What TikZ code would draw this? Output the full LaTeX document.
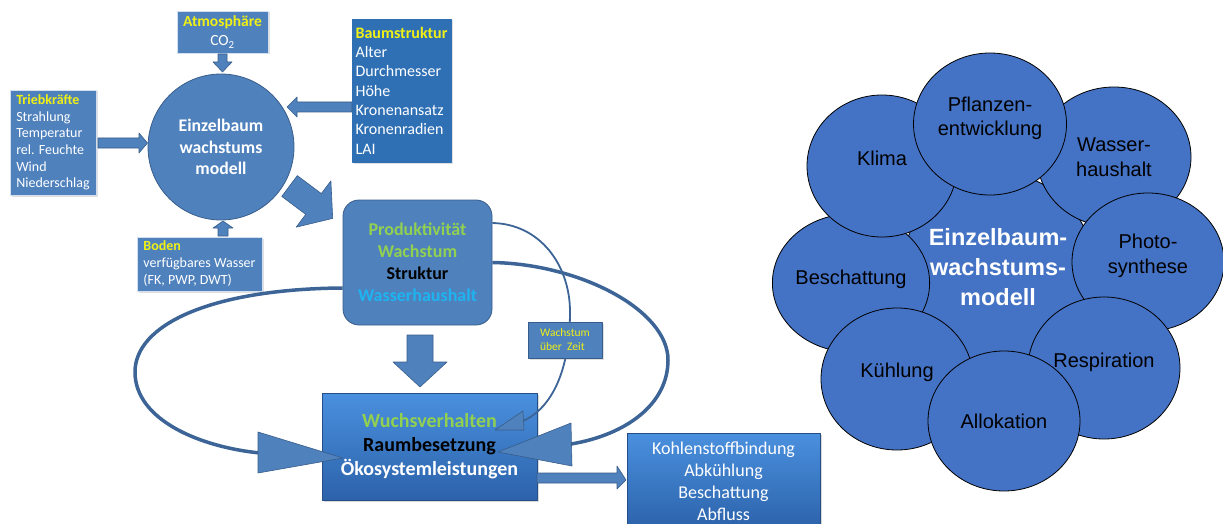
\documentclass[tikz,border=0pt]{standalone}
\usepackage{fontspec}
\setmainfont{Carlito}
\newfontfamily\arialfont{Liberation Sans}
\usetikzlibrary{shapes.geometric, shadows, positioning}
\definecolor{boxblue}{RGB}{79,129,189}
\definecolor{boxedge}{RGB}{56,93,138}
\definecolor{deepblue}{RGB}{47,112,181}
\definecolor{curveblue}{RGB}{60,100,150}
\definecolor{titleyellow}{RGB}{240,240,20}
\definecolor{leafgreen}{RGB}{146,208,80}
\definecolor{skycyan}{RGB}{30,180,240}
\definecolor{petalblue}{RGB}{68,114,196}
\definecolor{gradtop}{RGB}{74,144,222}
\definecolor{gradbottom}{RGB}{44,98,170}

\begin{document}
\begin{tikzpicture}[
                x=1pt, y=-1pt, line join=round,
                infobox/.style={rectangle, fill=boxblue, draw=white!75!boxblue, line width=0.8pt, text=white, inner sep=0pt, drop shadow={shadow xshift=1.5pt, shadow yshift=-1.5pt, opacity=0.25}},
                gradbox/.style={rectangle, top color=gradtop, bottom color=gradbottom, draw=gradbottom!80!black, line width=0.6pt, text=white, align=center, inner sep=0pt, drop shadow={shadow xshift=1.5pt, shadow yshift=-1.5pt, opacity=0.3}},
                blockarrow/.style={fill=boxblue, draw=boxedge, line width=0.6pt},
                loopline/.style={draw=curveblue, line width=3.5pt},
                thinloop/.style={draw=curveblue, line width=1.8pt},
                petal/.style={ellipse, fill=petalblue, draw=black, line width=0.8pt, inner sep=0pt, align=center, font=\arialfont\fontsize{20}{24.5}\selectfont}
                ]
                \useasboundingbox (0,0) rectangle (1223,524);

                %% Inputs round the model
                \node[infobox, minimum width=91pt, minimum height=42pt, align=center, font=\fontsize{15.5}{19}\selectfont] (atmo) at (222.5,32) {\textcolor{titleyellow}{\textbf{Atmosphäre}}\\CO\textsubscript{2}};
                \node[infobox, minimum width=86pt, minimum height=105pt, align=left, font=\fontsize{14}{16.7}\selectfont] (trieb) at (53,142.5) {\textcolor{titleyellow}{\textbf{Triebkräfte}}\\Strahlung\\Temperatur\\rel. Feuchte\\Wind\\Niederschlag};
                \node[infobox, fill=deepblue, draw=deepblue, minimum width=99pt, minimum height=143pt, align=left, font=\fontsize{16}{19.3}\selectfont] (baum) at (401.5,90.5) {\textcolor{titleyellow}{\textbf{Baumstruktur}}\\Alter\\Durchmesser\\Höhe\\Kronenansatz\\Kronenradien\\LAI};
                \node[infobox, minimum width=125pt, minimum height=54pt, align=left, font=\fontsize{14}{17}\selectfont] (boden) at (199.5,264) {\textcolor{titleyellow}{\textbf{Boden}}\\verfügbares Wasser\\(FK, PWP, DWT)};

                \node[circle, fill=boxblue, draw=boxedge, line width=0.8pt, minimum size=146pt, inner sep=0pt, text=white, align=center, font=\bfseries\fontsize{17.7}{21.5}\selectfont] (model) at (221,147) {Einzelbaum\\wachstums\\modell};

                % Block arrows
                \filldraw[blockarrow] (218,54) -- (227,54) -- (227,62) -- (232,62) -- (222.5,72) -- (213,62) -- (218,62) -- cycle;
                \filldraw[blockarrow] (98,138) -- (139,138) -- (139,133) -- (147.5,143) -- (139,153) -- (139,148) -- (98,148) -- cycle;
                \filldraw[blockarrow] (352,102) -- (297,102) -- (297,97) -- (287,107) -- (297,117) -- (297,112) -- (352,112) -- cycle;
                \filldraw[blockarrow] (218,236) -- (218,228) -- (213,228) -- (223,221) -- (233,228) -- (228,228) -- (228,236) -- cycle;
                \filldraw[blockarrow] (281.7,196.4) -- (305.7,214.4) -- (296.1,227.2) -- (332.7,218.4) -- (330.9,180.8) -- (321.3,193.6) -- (297.3,175.6) -- cycle;

                %% Results
                \node[rectangle, rounded corners=16pt, fill=boxblue, draw=boxedge, line width=0.8pt, minimum width=149pt, minimum height=125pt, inner sep=0pt, align=center, font=\bfseries\fontsize{18}{22}\selectfont] (prod) at (417.5,262.5) {\textcolor{leafgreen}{Produktivität}\\\textcolor{leafgreen}{Wachstum}\\Struktur\\\textcolor{skycyan}{Wasserhaushalt}};
                \node[gradbox, minimum width=215pt, minimum height=107pt, font=\bfseries\fontsize{20}{24}\selectfont] (wuchs) at (429.5,446.5) {\textcolor{leafgreen}{Wuchsverhalten}\\\textcolor{black}{Raumbesetzung}\\Ökosystemleistungen};
                \node[gradbox, minimum width=193pt, minimum height=97pt, font=\fontsize{18}{22}\selectfont] (leist) at (723.5,481.5) {Kohlenstoffbindung\\Abkühlung\\Beschattung\\Abfluss};

                \filldraw[blockarrow] (407,335) -- (433,335) -- (433,362) -- (447,362) -- (420,387) -- (393,362) -- (407,362) -- cycle;
                \filldraw[blockarrow] (537,473) -- (617,473) -- (617,466) -- (626,480) -- (617,489) -- (617,483) -- (537,483) -- cycle;

                % Feedback loops
                \coordinate (lefttip) at (343,458);
                \coordinate (righttip) at (498,452);
                \coordinate (thintip) at (495,430);
                \draw[loopline] ([yshift=-25.5pt]prod.west) .. controls (210,289) and (135,325) .. (135,372) .. controls (135,420) and (200,447) .. (260,453);
                \filldraw[blockarrow] (258,432) -- (lefttip) -- (258,473) -- cycle;
                \draw[loopline] (prod.east) .. controls (580,264) and (668,310) .. (668,360) .. controls (668,405) and (625,435) .. (571,444);
                \filldraw[blockarrow] (571,423) -- (righttip) -- (572,466) -- cycle;
                \draw[thinloop] ([yshift=39.5pt]prod.east) .. controls (540,224) and (570,265) .. (570,312) .. controls (570,370) and (552,408) .. (523,421);
                \filldraw[blockarrow] (523,411) -- (thintip) -- (524,430) -- cycle;

                \node[infobox, draw=boxedge, minimum width=74pt, minimum height=36pt, align=left, text=titleyellow, font=\fontsize{11.5}{14}\selectfont] (zeit) at (565,340) {Wachstum\\über\ \ Zeit};

                %% Flower of sub-models
                \filldraw[fill=petalblue, draw=black, line width=0.8pt] (998,268) circle (95pt);
                \node[petal, minimum width=150pt, minimum height=138pt, text depth=12pt] (besch) at (851,283) {Beschattung};
                \node[petal, minimum width=150pt, minimum height=142pt, text depth=16pt] (klima) at (882,166) {Klima};
                \node[petal, minimum width=154pt, minimum height=140pt] (wasser) at (1114,157) {Wasser-\\haushalt};
                \node[petal, minimum width=153pt, minimum height=142pt, text depth=15pt] (pflanzen) at (990,124) {Pflanzen-\\entwicklung};
                \node[petal, minimum width=152pt, minimum height=138pt, text depth=16pt] (photo) at (1148,262) {Photo-\\synthese};
                \node[petal, minimum width=152pt, minimum height=142pt, text depth=16pt] (resp) at (1104,368) {Respiration};
                \node[petal, minimum width=152pt, minimum height=142pt, text depth=18pt] (kuehl) at (897,379) {Kühlung};
                \node[petal, minimum width=152pt, minimum height=140pt] (allok) at (1004,421) {Allokation};
                \node[text=white, align=center, font=\arialfont\bfseries\fontsize{23.5}{30}\selectfont] (core) at (998,267) {Einzelbaum-\\wachstums-\\modell};
\end{tikzpicture}
\end{document}
